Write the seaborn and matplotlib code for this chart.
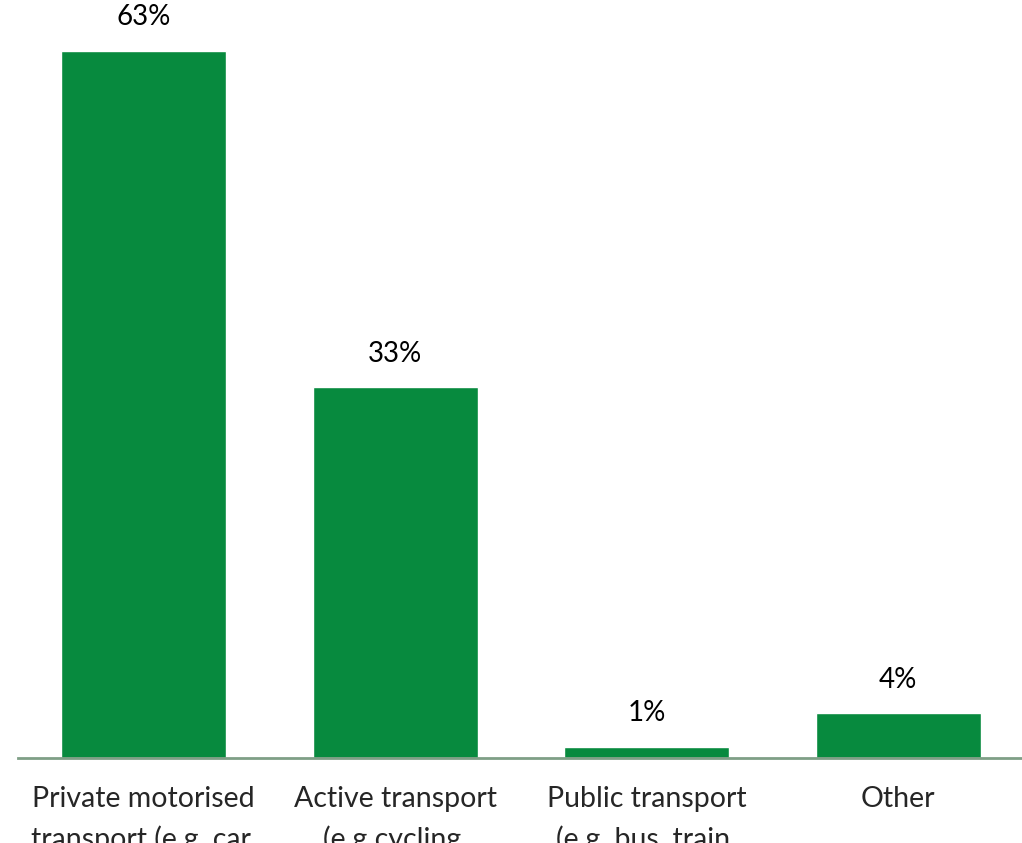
"""Share of trips by transport mode - bar chart"""

import matplotlib
matplotlib.use('Agg')
import matplotlib.pyplot as plt
import pandas as pd
import seaborn as sns

# Data
modes = [
    'Private motorised\ntransport (e.g. car,\nmotorbike)',
    'Active transport\n(e.g cycling,\nwalking)',
    'Public transport\n(e.g. bus, train,\ntram)',
    'Other',
]
shares = [63, 33, 1, 4]

df = pd.DataFrame({'mode': modes, 'share': shares})

sns.set_style('white')
plt.rcParams['font.family'] = ['Lato', 'DejaVu Sans']

fig = plt.figure(figsize=(10.22, 8.43), dpi=100)
ax = fig.add_axes([18 / 1022, 85 / 843, 1006 / 1022, 758 / 843])

sns.barplot(data=df, x='mode', y='share', color='#078a3e', saturation=1,
            width=0.656, ax=ax)

# Value labels above bars
for i, v in enumerate(shares):
    ax.annotate(f'{v}%', (i, v), xytext=(0, 24), textcoords='offset points',
                ha='center', va='center', fontsize=20, color='black')

ax.set_xlim(-0.5, 3.5)
ax.set_ylim(0, 67.5)
ax.set_xlabel('')
ax.set_ylabel('')
ax.set_yticks([])
ax.tick_params(axis='x', length=0, pad=20, labelsize=20.5)
for lab in ax.get_xticklabels():
    lab.set_linespacing(1.6)
    lab.set_verticalalignment('top')

for side in ['top', 'right', 'left']:
    ax.spines[side].set_visible(False)
ax.spines['bottom'].set_color('#7f9f86')
ax.spines['bottom'].set_linewidth(2)

fig.savefig('out.png', dpi=100)
